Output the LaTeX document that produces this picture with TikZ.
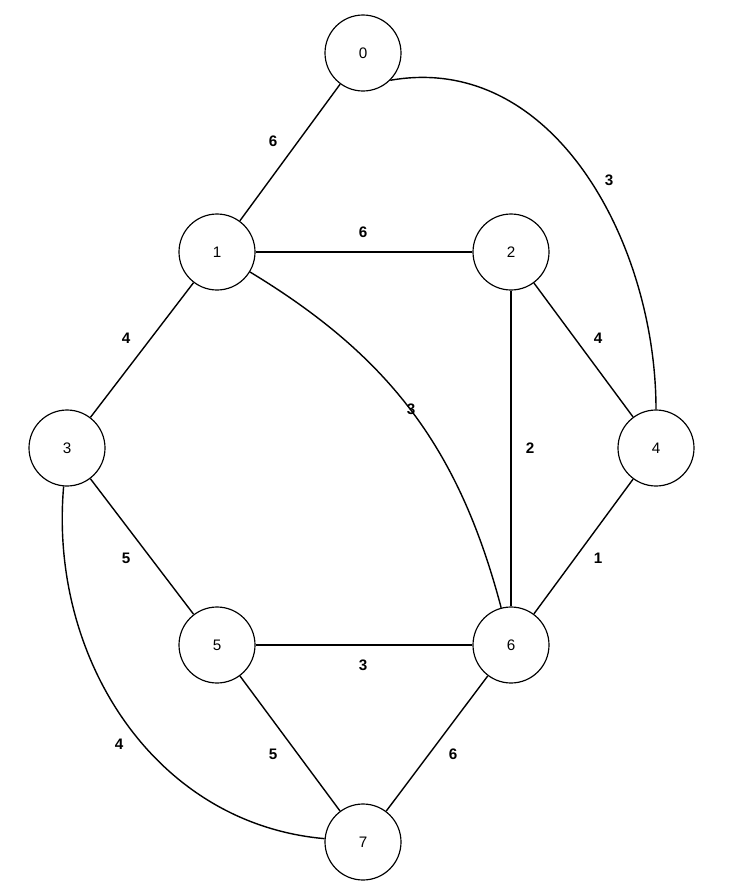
\documentclass[tikz,border=0pt]{standalone}
\usepackage{fontspec}
\setmainfont{Liberation Sans}
\begin{document}
\begin{tikzpicture}[x=0.03cm,y=-0.03cm,
  vtx/.style={circle,draw,line width=1pt,minimum size=2.28cm,inner sep=0pt,font=\fontsize{13}{15}\selectfont},
  lbl/.style={font=\bfseries\fontsize{13}{15}\selectfont},
  edge/.style={line width=1.2pt}]
\useasboundingbox (0,0) rectangle (736,895);
\fill[white] (0,0) rectangle (736,895);
\node[vtx] (n0) at (363,53) {0};
\node[vtx] (n1) at (217,252) {1};
\node[vtx] (n2) at (511,252) {2};
\node[vtx] (n3) at (67,448) {3};
\node[vtx] (n4) at (656,448) {4};
\node[vtx] (n5) at (217,645) {5};
\node[vtx] (n6) at (511,645) {6};
\node[vtx] (n7) at (363,842) {7};
\draw[edge] (n0) -- (n1);
\draw[edge] (n0.-45) to[out=10,in=90] (n4.north);
\draw[edge] (n1) -- (n2);
\draw[edge] (n1) -- (n3);
\draw[edge] (n1) to[bend left=22] (n6);
\draw[edge] (n2) -- (n6);
\draw[edge] (n2) -- (n4);
\draw[edge] (n3) -- (n5);
\draw[edge] (n3) to[out=-95,in=175] (n7);
\draw[edge] (n4) -- (n6);
\draw[edge] (n5) -- (n6);
\draw[edge] (n5) -- (n7);
\draw[edge] (n6) -- (n7);
\node[lbl] at (273,141) {6};
\node[lbl] at (609,180) {3};
\node[lbl] at (363,232) {6};
\node[lbl] at (126,338) {4};
\node[lbl] at (411,409) {3};
\node[lbl] at (530,448) {2};
\node[lbl] at (598,338) {4};
\node[lbl] at (126,558) {5};
\node[lbl] at (119,744) {4};
\node[lbl] at (598,558) {1};
\node[lbl] at (363,665) {3};
\node[lbl] at (273,754) {5};
\node[lbl] at (453,754) {6};
\end{tikzpicture}
\end{document}
